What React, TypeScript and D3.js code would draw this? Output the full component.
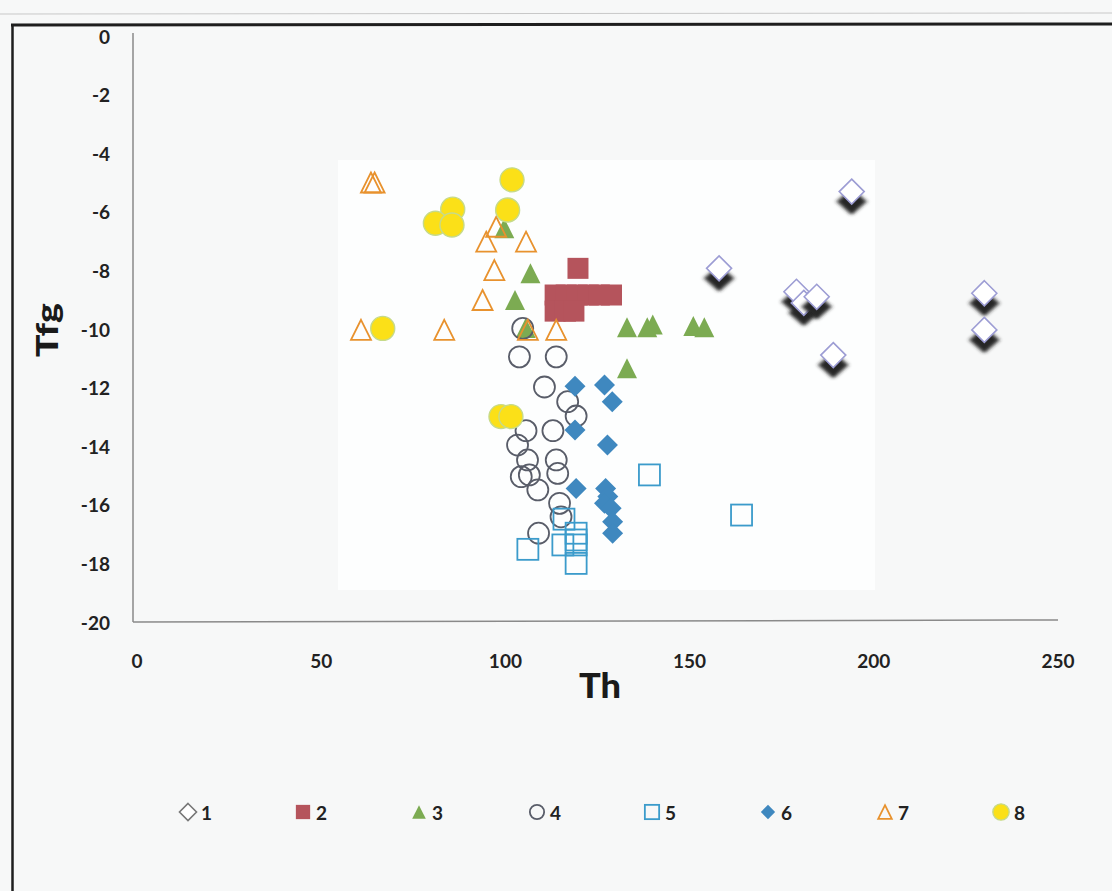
import React from "react";
import * as d3 from "d3";

// ---- data (Th, Tfg) ----
const s1Th = [158, 179, 181, 184.5, 189, 194, 230, 230];
const s1Tfg = [-7.93, -8.73, -9.11, -8.9, -10.89, -5.31, -8.78, -10.03];

const s2Th = [119.7, 113.5, 116.5, 119.5, 122.5, 125.5, 128.8, 113.5, 116.3, 118.6];
const s2Tfg = [-7.93, -8.84, -8.84, -8.84, -8.84, -8.84, -8.84, -9.39, -9.39, -9.39];

const s3Th = [99.7, 102.6, 105.5, 106.8, 133, 138.5, 140, 151, 154, 133];
const s3Tfg = [-6.56, -9.01, -9.97, -8.1, -9.94, -9.94, -9.85, -9.9, -9.94, -11.34];

const s4Th = [104.7, 103.8, 113.8, 110.6, 116.9, 119.2, 105.6, 112.9, 103.3, 106, 113.8, 106.5, 104.3, 114.2, 108.8, 114.7, 115.1, 109];
const s4Tfg = [-9.98, -10.95, -10.95, -11.98, -12.48, -12.97, -13.47, -13.47, -13.96, -14.47, -14.47, -14.98, -15.04, -14.93, -15.49, -15.95, -16.41, -16.97];

const s5Th = [106.1, 115.9, 119.2, 119.2, 115.6, 119.2, 119.2, 139.1, 164.1];
const s5Tfg = [-17.52, -16.49, -16.97, -17.2, -17.37, -17.37, -18.0, -14.98, -16.35];

const s6Th = [118.9, 126.9, 129, 118.9, 127.7, 119.2, 127.2, 127.8, 126.9, 128.7, 129.1, 129.1];
const s6Tfg = [-11.95, -11.91, -12.48, -13.45, -13.96, -15.44, -15.44, -15.72, -15.95, -16.12, -16.58, -16.97];

const s7Th = [63.5, 64.5, 97.5, 94.8, 105.6, 97, 93.8, 60.8, 83.4, 106.1, 113.8];
const s7Tfg = [-5.0, -5.0, -6.51, -7.02, -7.02, -7.99, -9.01, -10.03, -10.03, -10.03, -10.03];

const s8Th = [101.8, 85.7, 100.6, 81, 85.5, 66.7, 98.8, 101.5];
const s8Tfg = [-4.91, -5.91, -5.94, -6.39, -6.45, -9.98, -12.99, -12.99];

const xTicks = [0, 50, 100, 150, 200, 250];
const yTicks = [0, -2, -4, -6, -8, -10, -12, -14, -16, -18, -20];
const legendLabels = ["1", "2", "3", "4", "5", "6", "7", "8"];

type Kind = "diamondOpen" | "squareFill" | "triFill" | "circleOpen" | "squareOpen" | "diamondFill" | "triOpen" | "circleFill";

const series: { th: number[]; tfg: number[]; kind: Kind }[] = [
  { th: s1Th, tfg: s1Tfg, kind: "diamondOpen" },
  { th: s2Th, tfg: s2Tfg, kind: "squareFill" },
  { th: s3Th, tfg: s3Tfg, kind: "triFill" },
  { th: s4Th, tfg: s4Tfg, kind: "circleOpen" },
  { th: s5Th, tfg: s5Tfg, kind: "squareOpen" },
  { th: s6Th, tfg: s6Tfg, kind: "diamondFill" },
  { th: s7Th, tfg: s7Tfg, kind: "triOpen" },
  { th: s8Th, tfg: s8Tfg, kind: "circleFill" },
];

const diamondPath = (r: number) => `M0,${-r}L${r},0L0,${r}L${-r},0Z`;
const triPath = (w: number) => `M0,${-w / 2}L${w / 2},${w / 2}L${-w / 2},${w / 2}Z`;

function Marker({ kind, cx, cy, s = 1 }: { kind: Kind; cx: number; cy: number; s?: number }) {
  const t = `translate(${cx},${cy})`;
  switch (kind) {
    case "diamondOpen":
      return (
        <g transform={t}>
          {s === 1 && (
            <path d={diamondPath(14)} transform="translate(0,10) scale(1.08,0.95)" fill="#262626" filter="url(#blur)" />
          )}
          <path d={diamondPath(12.5 * s)} fill="#ffffff" stroke={s === 1 ? "#9d9dd4" : "#777"} strokeWidth={1.6} />
        </g>
      );
    case "squareFill":
      return <rect x={cx - 10.5 * s} y={cy - 10.5 * s} width={21 * s} height={21 * s} fill="#b5545c" />;
    case "triFill":
      return <path transform={t} d={triPath(20 * s)} fill="#7cab52" />;
    case "circleOpen":
      return <circle cx={cx} cy={cy} r={10.5 * s} fill="none" stroke="#595d69" strokeWidth={1.8} />;
    case "squareOpen":
      return <rect x={cx - 10.5 * s} y={cy - 10.5 * s} width={21 * s} height={21 * s} fill="none" stroke="#3b9bcb" strokeWidth={1.8} />;
    case "diamondFill":
      return <path transform={t} d={diamondPath(10.5 * s)} fill="#3f88bf" />;
    case "triOpen":
      return <path transform={t} d={triPath(20 * s)} fill="none" stroke="#e8922e" strokeWidth={1.8} />;
    case "circleFill":
      return <circle cx={cx} cy={cy} r={12 * s} fill="#fbe018" stroke="#c6da8a" strokeWidth={1.4} />;
  }
}

export default function App() {
  const W = 1112, H = 891;
  const x = d3.scaleLinear().domain([0, 250]).range([137, 1058]);
  const y = d3.scaleLinear().domain([-20, 0]).range([622, 36]);
  const font = "Lato, 'Open Sans', sans-serif";
  const legendX = [188, 303, 419, 537, 652, 768, 885, 1001];
  const legendY = 812;

  return (
    <div style={{ position: "fixed", left: 0, top: 0 }}>
      <svg width={W} height={H} style={{ display: "block" }}>
        <defs>
          <filter id="blur" x="-50%" y="-50%" width="200%" height="200%">
            <feGaussianBlur stdDeviation="1.8" />
          </filter>
        </defs>
        <rect x={0} y={0} width={W} height={H} fill="#f7f8f8" />
        <rect x={338} y={160} width={537} height={430} fill="#fdfefe" />
        {/* scan borders */}
        <line x1={0} x2={W} y1={14} y2={13} stroke="#c8c8c8" strokeWidth={1} />
        <line x1={11} x2={W} y1={25} y2={24} stroke="#1e1e1e" strokeWidth={3} />
        <line x1={12.5} x2={12.5} y1={24} y2={H} stroke="#1e1e1e" strokeWidth={2.5} />

        {/* axes */}
        <line x1={133} x2={133} y1={33} y2={622} stroke="#8a8a8a" strokeWidth={1.5} />
        <line x1={133} x2={1058} y1={622} y2={620} stroke="#8a8a8a" strokeWidth={1.5} />

        {yTicks.map((v) => (
          <text key={v} x={110} y={y(v)} textAnchor="end" dominantBaseline="central" fontFamily={font} fontWeight={700} fontSize={19} fill="#222">
            {v}
          </text>
        ))}
        {xTicks.map((v) => (
          <text key={v} x={x(v)} y={660} textAnchor="middle" dominantBaseline="central" fontFamily={font} fontWeight={700} fontSize={19} fill="#222">
            {v}
          </text>
        ))}

        <text transform="translate(46,330) rotate(-90)" textAnchor="middle" dominantBaseline="central" fontFamily={font} fontWeight={900} fontSize={30} fill="#1a1a1a" textLength={54} lengthAdjust="spacingAndGlyphs">
          Tfg
        </text>
        <text x={600} y={684} textAnchor="middle" dominantBaseline="central" fontFamily={font} fontWeight={900} fontSize={34} fill="#1a1a1a" textLength={42} lengthAdjust="spacingAndGlyphs">
          Th
        </text>

        {series.map((s, i) => (
          <g key={i}>
            {s.th.map((v, j) => (
              <Marker key={j} kind={s.kind} cx={x(v)} cy={y(s.tfg[j])} />
            ))}
          </g>
        ))}

        {legendLabels.map((lab, i) => (
          <g key={lab}>
            <Marker kind={series[i].kind} cx={legendX[i]} cy={legendY} s={0.68} />
            <text x={legendX[i] + 13} y={legendY} dominantBaseline="central" fontFamily={font} fontWeight={700} fontSize={19} fill="#222">
              {lab}
            </text>
          </g>
        ))}
      </svg>
    </div>
  );
}
